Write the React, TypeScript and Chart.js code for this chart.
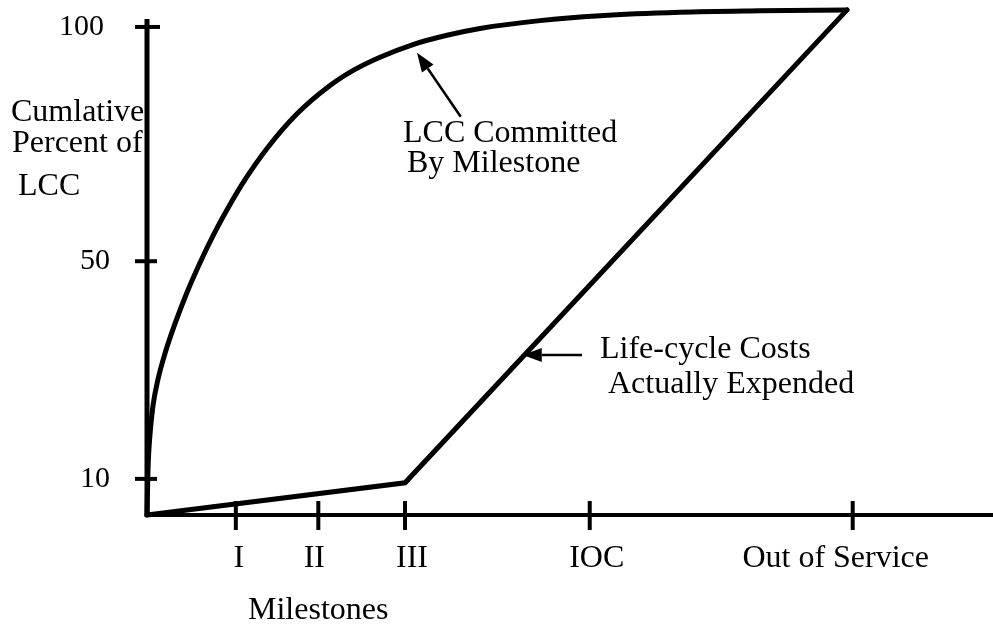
import React, { useEffect, useRef } from "react";
import { Chart, registerables } from "chart.js";

Chart.register(...registerables);

// ---- data (x: project timeline units, y: cumulative percent of LCC scale units) ----
const milestoneLabels = ["I", "II", "III", "IOC", "Out of Service"];
const milestonePositions = [12.6, 24.3, 36.6, 62.8, 100.1];

const yTickValues = [7.4, 52.0, 100];
const yTickLabels = ["10", "50", "100"];

const committedX = [0, 0.14, 0.43, 0.85, 1.56, 2.55, 3.97, 5.67, 7.52, 9.5, 11.49, 13.9, 17.02, 21.28, 25.96, 29.5, 33.05, 37.73, 42.55, 47.23, 55.74, 64.26, 75.6, 86.95, 99.29];
const committedY = [0, 9.2, 16.6, 22.4, 27.8, 33.1, 39.2, 45.6, 51.7, 57.6, 62.9, 68.7, 75.1, 82.2, 88.0, 91.3, 93.8, 96.4, 98.3, 99.7, 101.3, 102.3, 103.0, 103.3, 103.5];

const expendedX = [0, 36.6, 99.3];
const expendedY = [0, 6.6, 103.5];

// ---- annotation arrows (in data units) ----
const arrowDefs = [
  { fromX: 44.5, fromY: 81.6, toX: 38.3, toY: 94.7 },
  { fromX: 61.7, fromY: 32.8, toX: 53.3, toY: 32.8 },
];

// ---- text layout (pixels) ----
const FONT_FAMILY = "'Liberation Serif', 'Times New Roman', serif";
const textItems = [
  { text: "Cumlative", x: 11, y: 121 },
  { text: "Percent of", x: 12, y: 152 },
  { text: "LCC", x: 18, y: 195 },
  { text: "LCC Committed", x: 403, y: 142 },
  { text: "By Milestone", x: 407, y: 172 },
  { text: "Life-cycle Costs", x: 600, y: 358 },
  { text: "Actually Expended", x: 608, y: 393 },
  { text: "Milestones", x: 248, y: 619 },
];
const xLabelOffsets = [3, -4, 7, 7, -17];

const toPoints = (xs: number[], ys: number[]) => xs.map((x, i) => ({ x, y: ys[i] }));

const schematicPlugin = {
  id: "schematic",
  beforeDatasetsDraw(chart: any) {
    const { ctx, chartArea, scales } = chart;
    const xs = scales.x;
    const ys = scales.y;
    const x0 = xs.getPixelForValue(0);
    const y0 = ys.getPixelForValue(0);
    ctx.save();
    ctx.strokeStyle = "#000";
    ctx.lineCap = "butt";
    // y axis
    ctx.lineWidth = 5;
    ctx.beginPath();
    ctx.moveTo(x0, 19);
    ctx.lineTo(x0, y0 + 2);
    ctx.stroke();
    // x axis
    ctx.lineWidth = 4;
    ctx.beginPath();
    ctx.moveTo(x0 - 2, y0);
    ctx.lineTo(chartArea.right, y0);
    ctx.stroke();
    // y ticks
    ctx.lineWidth = 4;
    yTickValues.forEach((v, i) => {
      const py = ys.getPixelForValue(v);
      ctx.beginPath();
      ctx.moveTo(x0 - 12, py);
      ctx.lineTo(x0 + (i === 2 ? 13 : 10), py);
      ctx.stroke();
    });
    // x ticks
    milestonePositions.forEach((v) => {
      const px = xs.getPixelForValue(v);
      ctx.beginPath();
      ctx.moveTo(px, y0 - 14);
      ctx.lineTo(px, y0 + 15);
      ctx.stroke();
    });
    // tick labels
    ctx.fillStyle = "#000";
    ctx.font = `30px ${FONT_FAMILY}`;
    ctx.textAlign = "right";
    ctx.textBaseline = "alphabetic";
    yTickValues.forEach((v, i) => {
      const py = ys.getPixelForValue(v);
      ctx.fillText(yTickLabels[i], i === 2 ? 104 : 110, py + 8);
    });
    ctx.font = `32px ${FONT_FAMILY}`;
    ctx.textAlign = "center";
    milestonePositions.forEach((v, i) => {
      const px = xs.getPixelForValue(v);
      ctx.fillText(milestoneLabels[i], px + xLabelOffsets[i], y0 + 52);
    });
    ctx.restore();
  },
  afterDraw(chart: any) {
    const { ctx, scales } = chart;
    const xs = scales.x;
    const ys = scales.y;
    ctx.save();
    ctx.fillStyle = "#000";
    ctx.strokeStyle = "#000";
    ctx.font = `32px ${FONT_FAMILY}`;
    ctx.textAlign = "left";
    ctx.textBaseline = "alphabetic";
    textItems.forEach((t) => ctx.fillText(t.text, t.x, t.y));
    // arrows
    arrowDefs.forEach((a) => {
      const fx = xs.getPixelForValue(a.fromX);
      const fy = ys.getPixelForValue(a.fromY);
      const tx = xs.getPixelForValue(a.toX);
      const ty = ys.getPixelForValue(a.toY);
      const dx = tx - fx;
      const dy = ty - fy;
      const len = Math.hypot(dx, dy);
      const ux = dx / len;
      const uy = dy / len;
      const headLen = 19;
      const halfW = 7;
      const bx = tx - ux * headLen;
      const by = ty - uy * headLen;
      ctx.lineWidth = 2.5;
      ctx.beginPath();
      ctx.moveTo(fx, fy);
      ctx.lineTo(bx, by);
      ctx.stroke();
      ctx.beginPath();
      ctx.moveTo(tx, ty);
      ctx.lineTo(bx - uy * halfW, by + ux * halfW);
      ctx.lineTo(bx + uy * halfW, by - ux * halfW);
      ctx.closePath();
      ctx.fill();
    });
    ctx.restore();
  },
};

export default function App() {
  const canvasRef = useRef<HTMLCanvasElement | null>(null);

  useEffect(() => {
    document.body.style.margin = "0";
    const canvas = canvasRef.current;
    if (!canvas) return;
    const chart = new Chart(canvas, {
      type: "line",
      data: {
        datasets: [
          {
            label: "LCC Committed By Milestone",
            data: toPoints(committedX, committedY),
            borderColor: "#000",
            borderWidth: 5,
            pointRadius: 0,
            fill: false,
            cubicInterpolationMode: "monotone",
            borderCapStyle: "round",
            borderJoinStyle: "round",
            clip: false as any,
          },
          {
            label: "Life-cycle Costs Actually Expended",
            data: toPoints(expendedX, expendedY),
            borderColor: "#000",
            borderWidth: 5,
            pointRadius: 0,
            fill: false,
            tension: 0,
            borderCapStyle: "round",
            borderJoinStyle: "miter",
            clip: false as any,
          },
        ],
      },
      options: {
        animation: false,
        responsive: true,
        maintainAspectRatio: false,
        layout: { padding: { left: 147, right: 0, top: 5, bottom: 112 } },
        scales: {
          x: { type: "linear", min: 0, max: 120, display: false },
          y: { type: "linear", min: 0, max: 104.5, display: false },
        },
        plugins: {
          legend: { display: false },
          tooltip: { enabled: false },
        },
      },
      plugins: [schematicPlugin],
    });
    return () => chart.destroy();
  }, []);

  return (
    <div style={{ position: "relative", width: 993, height: 627, background: "#fff" }}>
      <canvas ref={canvasRef} />
    </div>
  );
}
